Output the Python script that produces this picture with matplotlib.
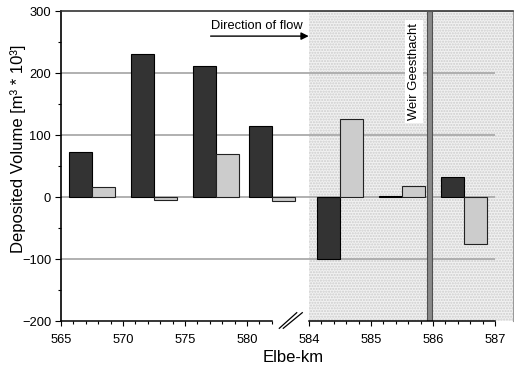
import numpy as np
import matplotlib
matplotlib.use("Agg")
import matplotlib.pyplot as plt
from matplotlib.scale import FuncScale
from matplotlib.ticker import FixedLocator, FuncFormatter

plt.rcParams['font.family'] = ['Liberation Sans', 'DejaVu Sans']

# River sections (Elbe-km midpoints) and deposited volumes [10^3 m^3]
section_km = [567.5, 572.5, 577.5, 582.0, 584.5, 585.5, 586.5]
volume_dark = [73, 231, 211, 115, -100, 1, 33]
volume_light = [16, -5, 69, -7, 126, 18, -75]

major_km = [565, 570, 575, 580, 584, 585, 586, 587]
minor_km = [k for k in range(566, 583) if k % 5 != 0] + \
           [round(584 + 0.2 * i, 1) for i in range(1, 15) if i % 5 != 0]
y_major = [-200, -100, 0, 100, 200, 300]
y_minor = [-150, -50, 50, 150, 250]
grid_levels = [-100, 0, 100, 200]

# Broken km axis: 5 km per unit up to 584, then 1 km per unit
km_knots = [500.0, 565.0, 583.9, 584.0, 600.0]
u_knots = [-13.0, 0.0, 3.78, 4.0, 20.0]


def forward(x):
    return np.interp(x, km_knots, u_knots)


def inverse(u):
    return np.interp(u, u_knots, km_knots)


fig = plt.figure(figsize=(5.14, 3.65), dpi=100)
ax = fig.add_axes([61 / 514, 1 - 321 / 365, 452 / 514, 310 / 365])
ax.set_xscale(FuncScale(ax, (forward, inverse)))
ax.set_xlim(565, 587.29)
ax.set_ylim(-200, 300)

# Shaded downstream reach
ax.axvspan(584, 587.29, facecolor='#f1f1f1', edgecolor='#cdcdcd',
           hatch='......', lw=0, zorder=0)

ax.hlines(grid_levels, 565, 587, colors='#aaaaaa', lw=1.3, zorder=1)

bar_w = [1.87 if km < 584 else 0.376 for km in section_km]
ax.bar(section_km, volume_dark, width=[-w for w in bar_w], align='edge',
       color='#333333', edgecolor='black', lw=0.8, zorder=3)
ax.bar(section_km, volume_light, width=bar_w, align='edge',
       color='#cccccc', edgecolor='#222222', lw=0.8, zorder=3)

# Weir position
ax.axvspan(585.90, 585.99, facecolor='#8a8a8a', edgecolor='#505050',
           lw=0.8, zorder=4)
ax.text(0.781, 0.805, 'Weir Geesthacht', transform=ax.transAxes,
        rotation=90, ha='center', va='center', fontsize=9.4, zorder=5,
        bbox=dict(facecolor='white', edgecolor='none', pad=2))

ax.annotate('', xy=(0.548, 0.919), xytext=(0.331, 0.919),
            xycoords='axes fraction',
            arrowprops=dict(arrowstyle='-|>', color='black', lw=1,
                            mutation_scale=11, shrinkA=0, shrinkB=0))
ax.text(0.331, 0.942, 'Direction of flow', transform=ax.transAxes,
        fontsize=9.3, ha='left', va='baseline')

# Spines
ax.spines['bottom'].set_visible(False)
ax.spines['left'].set_color('black')
ax.spines['left'].set_linewidth(1.2)
ax.spines['top'].set_color('#333333')
ax.spines['top'].set_linewidth(1.2)
ax.spines['right'].set_color('#999999')
ax.spines['right'].set_linewidth(0.8)

xt = ax.get_xaxis_transform()
ax.plot([565, 582.05], [0, 0], transform=xt, color='black', lw=1.1,
        clip_on=False, zorder=6)
ax.plot([584, 587], [0, 0], transform=xt, color='black', lw=1.1,
        clip_on=False, zorder=6)
for x0, x1 in [(0.483, 0.5215), (0.4918, 0.5338)]:
    ax.plot([x0, x1], [-0.0235, 0.0268], transform=ax.transAxes,
            color='black', lw=0.9, clip_on=False, zorder=6)

ax.xaxis.set_major_locator(FixedLocator(major_km))
ax.xaxis.set_minor_locator(FixedLocator(minor_km))
ax.xaxis.set_major_formatter(FuncFormatter(lambda v, p: f'{v:.0f}'))
ax.xaxis.set_minor_formatter(FuncFormatter(lambda v, p: ''))
ax.yaxis.set_major_locator(FixedLocator(y_major))
ax.yaxis.set_minor_locator(FixedLocator(y_minor))

ax.tick_params(axis='x', which='major', direction='out', length=3.6,
               width=0.8, pad=5.5, labelsize=9.3)
ax.tick_params(axis='x', which='minor', direction='out', length=2.2,
               width=0.8)
ax.tick_params(axis='y', which='major', direction='out', length=4.3,
               width=0.8, pad=2.8, labelsize=9.3)
ax.tick_params(axis='y', which='minor', direction='out', length=2.2,
               width=0.8)

fig.text(18 / 514, 1 - 149 / 365, 'Deposited Volume [m³ * 10³]',
         rotation=90, ha='center', va='center', fontsize=12)
fig.text(293 / 514, 1 - 362 / 365, 'Elbe-km', ha='center', va='baseline',
         fontsize=12)

fig.savefig('out.png', dpi=100)
